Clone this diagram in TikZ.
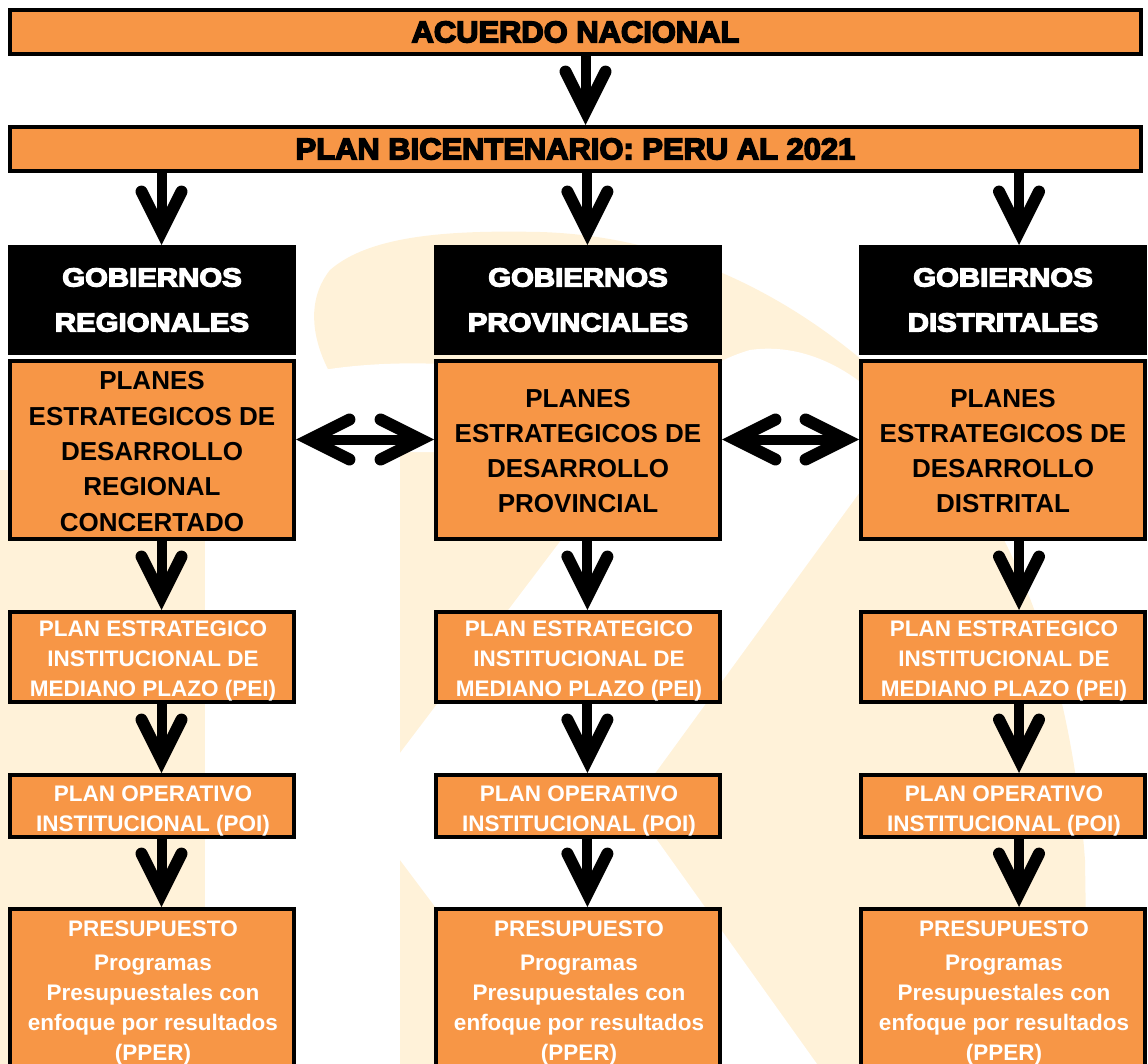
\documentclass[tikz,border=0pt]{standalone}
\usepackage{fontspec}
\setmainfont{Liberation Sans}
\newfontfamily\titlefont[FakeBold=5,FakeStretch=1.03]{Liberation Sans Bold}
\newfontfamily\govfont[FakeBold=5,FakeStretch=1.13]{Liberation Sans Bold}
\usetikzlibrary{arrows.meta}
\definecolor{boxorange}{RGB}{247,150,70}
\definecolor{cream}{RGB}{255,242,217}
\begin{document}
\begin{tikzpicture}[x=1pt,y=-1pt,
  box/.style={draw=black, line width=4pt, fill=boxorange, inner sep=0pt, align=center},
  banner/.style={box, minimum width=1131pt, minimum height=44pt, font=\titlefont\fontsize{30}{36}\selectfont},
  gov/.style={fill=black, draw=none, inner sep=0pt, outer sep=0pt, minimum width=288pt, minimum height=110pt, align=center, text=white, font=\govfont\fontsize{26}{45}\selectfont},
  plan/.style={box, minimum width=284pt, minimum height=178pt},
  plantext/.style={align=center, inner sep=0pt, font=\bfseries\fontsize{26}{35.3}\selectfont},
  pei/.style={box, minimum width=284pt, minimum height=90pt},
  poi/.style={box, minimum width=284pt, minimum height=62pt},
  pres/.style={box, minimum width=284pt, minimum height=162pt},
  wtext/.style={text=white, align=center, inner sep=0pt, font=\bfseries\fontsize{22.5}{30}\selectfont},
  barb/.tip={Straight Barb[length=40pt,width=40pt,line width'=12pt,line cap=round,line join=miter]},
  down/.style={line width=10pt, -barb},
  both/.style={line width=10pt, barb-barb},
]
\useasboundingbox (0,0) rectangle (1148,1064);
% watermark
\fill[cream] (0,470) rectangle (205,1064);
\fill[cream] (400,1064) -- (400,450) .. controls (330,400) and (290,320) .. (330,270)
  .. controls (370,235) and (450,230) .. (540,232)
  .. controls (680,236) and (800,300) .. (890,385)
  .. controls (1010,500) and (1070,660) .. (1085,860) -- (1088,1064) -- cycle;
\fill[white] (280,452) -- (280,380) .. controls (330,364) and (400,362) .. (440,364) -- (440,452) -- cycle;
\fill[white] (400,753) -- (565,535) .. controls (620,440) and (680,370) .. (750,350)
  .. controls (820,340) and (880,390) .. (905,430) -- (632,805) -- (817,1064)
  -- (553,1064) -- (400,860) -- cycle;

% banners
\node[banner] (r0) at (575.5,32) {ACUERDO NACIONAL};
\node[banner] (r1) at (575.5,149) {PLAN BICENTENARIO: PERU AL 2021};

% governments
\node[gov] (gL) at (152,300) {GOBIERNOS\\REGIONALES};
\node[gov] (gM) at (578,300) {GOBIERNOS\\PROVINCIALES};
\node[gov] (gR) at (1003,300) {GOBIERNOS\\DISTRITALES};

% strategic plans
\node[plan] (pL) at (152,450) {};
\node[plan] (pM) at (578,450) {};
\node[plan] (pR) at (1003,450) {};
\node[plantext] (pLt) at (152,451.5) {PLANES\\ESTRATEGICOS DE\\DESARROLLO\\REGIONAL\\CONCERTADO};
\node[plantext] (pMt) at (578,451) {PLANES\\ESTRATEGICOS DE\\DESARROLLO\\PROVINCIAL};
\node[plantext] (pRt) at (1003,451) {PLANES\\ESTRATEGICOS DE\\DESARROLLO\\DISTRITAL};

% PEI
\node[pei] (eL) at (152,657) {};
\node[pei] (eM) at (578,657) {};
\node[pei] (eR) at (1003,657) {};
\node[wtext] (eLt) at (153,661) {PLAN ESTRATEGICO\\INSTITUCIONAL DE\\MEDIANO PLAZO (PEI)};
\node[wtext] (eMt) at (579,661) {PLAN ESTRATEGICO\\INSTITUCIONAL DE\\MEDIANO PLAZO (PEI)};
\node[wtext] (eRt) at (1004,661) {PLAN ESTRATEGICO\\INSTITUCIONAL DE\\MEDIANO PLAZO (PEI)};

% POI
\node[poi] (oL) at (152,806) {};
\node[poi] (oM) at (578,806) {};
\node[poi] (oR) at (1003,806) {};
\node[wtext] (oLt) at (153,810.5) {PLAN OPERATIVO\\INSTITUCIONAL (POI)};
\node[wtext] (oMt) at (579,810.5) {PLAN OPERATIVO\\INSTITUCIONAL (POI)};
\node[wtext] (oRt) at (1004,810.5) {PLAN OPERATIVO\\INSTITUCIONAL (POI)};

% budget
\node[pres] (sL) at (152,990) {};
\node[pres] (sM) at (578,990) {};
\node[pres] (sR) at (1003,990) {};
\node[wtext] (tL) at (153,993) {PRESUPUESTO\\[4pt]Programas\\Presupuestales con\\enfoque por resultados\\(PPER)};
\node[wtext] (tM) at (579,993) {PRESUPUESTO\\[4pt]Programas\\Presupuestales con\\enfoque por resultados\\(PPER)};
\node[wtext] (tR) at (1004,993) {PRESUPUESTO\\[4pt]Programas\\Presupuestales con\\enfoque por resultados\\(PPER)};

% arrow columns
\coordinate (xT) at (585.5,0);
\coordinate (xL) at (161.5,0);
\coordinate (xM) at (587.4,0);
\coordinate (xR) at (1019,0);
\coordinate (yD) at (0,439.5);

\draw[down] (xT |- r0.south) -- (xT |- r1.north);
\draw[down] (xL |- r1.south) -- (xL |- gL.north);
\draw[down] (xM |- r1.south) -- (xM |- gM.north);
\draw[down] (xR |- r1.south) -- (xR |- gR.north);
\foreach \c in {L,M,R}{
  \draw[down] (x\c |- p\c.south) -- (x\c |- e\c.north);
  \draw[down] (x\c |- e\c.south) -- (x\c |- o\c.north);
  \draw[down] (x\c |- o\c.south) -- (x\c |- s\c.north);
}
\draw[both] (pL.east |- yD) -- (pM.west |- yD);
\draw[both] (pM.east |- yD) -- (pR.west |- yD);
\end{tikzpicture}
\end{document}
